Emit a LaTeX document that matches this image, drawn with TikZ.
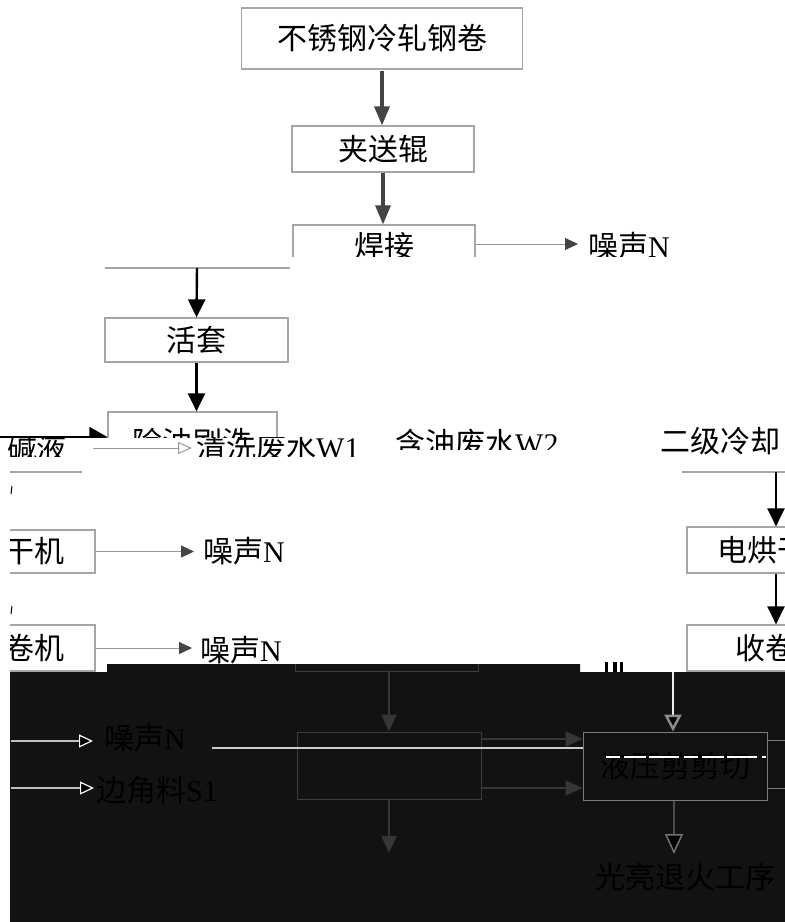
\documentclass[tikz,border=0pt]{standalone}
\usepackage{fontspec}
\setmainfont{Liberation Serif}
\newfontfamily\cjk{Noto Sans CJK SC}
\usetikzlibrary{arrows.meta}

\definecolor{boxgray}{HTML}{A6A6A6}
\definecolor{flowgray}{HTML}{444444}
\definecolor{noisegray}{HTML}{999999}
\definecolor{nightblack}{HTML}{121212}
\definecolor{dimgray}{HTML}{3C3C3C}
\definecolor{midgray}{HTML}{7A7A7A}

\newcommand{\zh}[1]{{\cjk #1}}
\newcommand{\procfont}{\fontsize{30}{30}\selectfont}

\begin{document}
\begin{tikzpicture}[x=1pt,y=-1pt,
            proc/.style={draw=boxgray,line width=1.2pt,inner sep=0pt,font=\procfont},
            txt/.style={inner sep=0pt,font=\procfont},
            boxline/.style={draw=boxgray,line width=1.2pt},
            flow arrow/.style={draw=flowgray,line width=3.2pt,-{Triangle[length=19pt,width=15pt]}},
            black arrow/.style={draw=black,line width=2.4pt,-{Triangle[length=18pt,width=17pt]}},
            noise arrow/.style={draw=noisegray,line width=1pt,-{Triangle[length=13pt,width=12pt,color=flowgray]}},
            open arrow/.style={draw=noisegray,line width=1pt,-{Triangle[open,length=14pt,width=12pt]}},
            dim box/.style={draw=dimgray,line width=1pt,inner sep=0pt,font=\procfont},
            dim arrow/.style={draw=flowgray!80!black,line width=2pt,-{Triangle[length=17pt,width=15pt]}},
            pale arrow/.style={draw=black!25,line width=1.2pt,-{Triangle[length=14pt,width=13pt,color=white,fill=black]}},
            ]
            \useasboundingbox (0,0) rectangle (785,922);

            % upper part of the line
            \node[proc, minimum width=281pt, minimum height=61pt] (coil) at (382,38.5) {\zh{不锈钢冷轧钢卷}};
            \node[proc, minimum width=182pt, minimum height=46pt] (pinch) at (383,149) {\zh{夹送辊}};
            \begin{scope}
                \clip (0,0) rectangle (785,256);
                \node[proc, minimum width=182pt, minimum height=43pt] (weld) at (384,246.5) {\zh{焊接}};
                \node[txt, anchor=west] (n1) at (588,246) {\zh{噪声}N};
            \end{scope}
            \coordinate (n1tip) at (578,244);

            \draw[flow arrow] (coil.south |- 0,71) -- (coil.south |- pinch.north);
            \draw[flow arrow] (pinch.south) -- (pinch.south |- weld.north);
            \draw[noise arrow] (weld.east |- n1tip) -- (n1tip);

            % shifted strip
            \coordinate (weldbl) at (105,268);
            \coordinate (weldbr) at (290,268);
            \coordinate (weldout) at (197,268);
            \draw[boxline] (weldbl) -- (weldbr);
            \node[proc, minimum width=183pt, minimum height=44pt] (loop) at (196.5,340) {\zh{活套}};
            \draw[black arrow] (weldout) -- (loop.north);
            \begin{scope}
                \clip (0,256) rectangle (785,437.5);
                \node[proc, minimum width=169pt, minimum height=60pt] (brush) at (192.5,442) {\zh{除油刷洗}};
                \coordinate (rinsein) at (0,437);
                \draw[draw=black,line width=1.5pt,-{Triangle[length=18pt,width=20pt]}] (rinsein) -- (rinsein -| brush.west);
            \end{scope}
            \draw[black arrow] (loop.south) -- (loop.south |- brush.north);

            % broken strip
            \begin{scope}
                \clip (8,437) rectangle (70,456);
                \node[txt] (lye) at (37,448) {\zh{碱液}};
            \end{scope}
            \coordinate (lyeout) at (93,448);
            \coordinate (w1tip) at (192,448);
            \draw[open arrow] (lyeout) -- (w1tip);
            \begin{scope}
                \clip (190,437) rectangle (380,456);
                \node[txt, anchor=west] (w1) at (196,447) {\zh{清洗废水}W1};
            \end{scope}
            \begin{scope}
                \clip (390,425) rectangle (580,449);
                \node[txt, anchor=west] (w2) at (395,443) {\zh{含油废水}W2};
            \end{scope}
            \begin{scope}
                \clip (655,418) rectangle (785,456);
                \node[txt, anchor=west] (w3) at (660,441) {\zh{二级冷却}};
            \end{scope}
            \coordinate (edgeL1) at (10,472);
            \coordinate (edgeL2) at (82,472);
            \coordinate (edgeR1) at (682,472);
            \coordinate (edgeR2) at (785,472);
            \draw[boxline] (edgeL1) -- (edgeL2);
            \draw[boxline] (edgeR1) -- (edgeR2);

            % middle strip
            \begin{scope}
                \clip (10,470) rectangle (785,672);
                \node[proc, minimum width=150pt, minimum height=43pt] (dryer) at (20,551.5) {\zh{烘干机}};
                \node[proc, minimum width=150pt, minimum height=46pt] (uncoil) at (20,648) {\zh{开卷机}};
                \node[proc, minimum width=150pt, minimum height=46pt] (elec) at (762,550) {\zh{电烘干}};
                \node[proc, minimum width=186pt, minimum height=46pt] (reel) at (780,648) {\zh{收卷机}};
            \end{scope}
            \node[txt, anchor=west] (n2) at (203,551) {\zh{噪声}N};
            \node[txt, anchor=west] (n3) at (200,650) {\zh{噪声}N};
            \draw[noise arrow, shorten >=9pt] (dryer.east) -- (dryer.east -| n2.west);
            \draw[noise arrow, shorten >=8pt] (uncoil.east) -- (uncoil.east -| n3.west);
            \coordinate (elecin) at (776,472);
            \draw[black arrow] (edgeR2 -| elecin) -- (elecin |- elec.north);
            \draw[black arrow] (elecin |- elec.south) -- (elecin |- reel.north);
            \draw[black, line width=1pt] (12,486) -- (11,494);
            \draw[black, line width=1pt] (12,606) -- (11,614);
            \fill[black] (605,662) rectangle (608,672);
            \fill[black] (613,662) rectangle (617,672);
            \fill[black] (620,662) rectangle (623,672);

            % dark strip
            \fill[nightblack] (10,672) -- (107,672) -- (107,664) -- (580,664) -- (580,672)
                -- (785,672) -- (785,922) -- (10,922) -- cycle;
            \draw[dimgray, line width=1pt] (295,664) -- (295,671) -- (478,671) -- (478,664);

            \node[dim box, minimum width=184pt, minimum height=67pt] (cutL) at (389,765.5) {};
            \node[dim box, draw=midgray, text=black, minimum width=184pt, minimum height=68pt] (shear) at (675,766) {\zh{液压剪剪切}};
            \coordinate (cutin) at (389,671);
            \coordinate (cutout) at (389,853);
            \draw[dim arrow] (cutin) -- (cutL.north);
            \draw[dim arrow] (cutL.south) -- (cutout);
            \draw[dim arrow] ([yshift=26.5pt]cutL.east) -- ([yshift=26.5pt]cutL.east -| shear.west);
            \draw[dim arrow] ([yshift=-22.5pt]cutL.east) -- ([yshift=-22.5pt]cutL.east -| shear.west);
            \coordinate (glitchstart) at (212,748);
            \draw[black!20, line width=1.2pt] (glitchstart) -- (glitchstart -| shear.west);
            \coordinate (rim1) at (785,740);
            \coordinate (rim2) at (785,788);
            \draw[midgray, line width=1pt] (shear.east |- rim1) -- (rim1);
            \draw[midgray, line width=1pt] (shear.east |- rim2) -- (rim2);
            \draw[white, line width=1.5pt, dash pattern=on 14pt off 4pt on 22pt off 3pt on 30pt off 5pt] (606,757) -- (766,757);

            \coordinate (reelout) at (673,672);
            \draw[draw=white!92!black,line width=2.5pt,-{Triangle[length=17pt,width=17pt,color=black!45,fill=black]}] (reelout) -- (reelout |- shear.north);
            \node[txt, text=black] (anneal) at (685,877) {\zh{光亮退火工序}};
            \coordinate (annealtip) at (674,854);
            \draw[draw=black!70,line width=1.5pt,-{Triangle[length=20pt,width=18pt,color=black!55,fill=black]}] (shear.south -| annealtip) -- (annealtip);

            \node[txt, anchor=west, text=black] (n4) at (104,738) {\zh{噪声}N};
            \node[txt, anchor=west, text=black] (s1) at (96,790) {\zh{边角料}S1};
            \coordinate (n4from) at (11,741);
            \coordinate (s1from) at (11,788);
            \draw[pale arrow, shorten >=11pt] (n4from) -- (n4from -| n4.west);
            \draw[pale arrow, shorten >=2pt] (s1from) -- (s1from -| s1.west);
        \end{tikzpicture}
\end{document}
